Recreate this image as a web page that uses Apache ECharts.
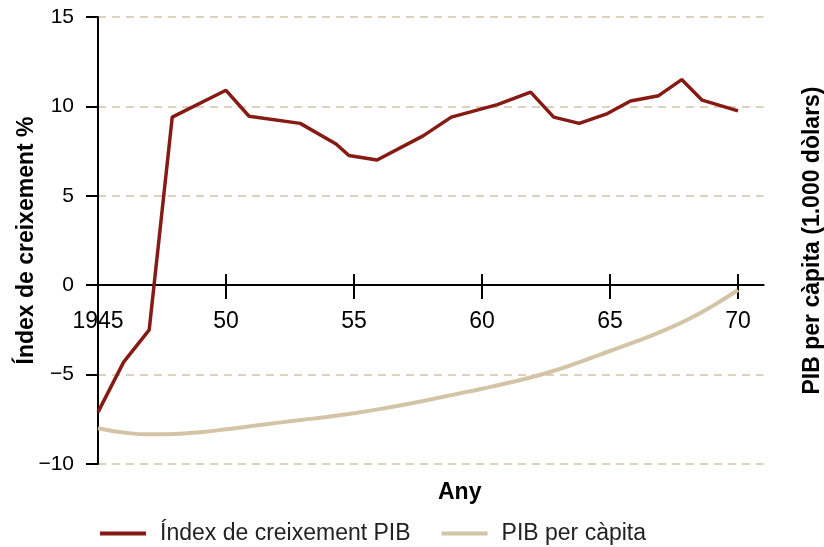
<!DOCTYPE html>
<html>
<head>
<meta charset="utf-8">
<script src="https://cdn.jsdelivr.net/npm/echarts@6/dist/echarts.min.js"></script>
<style>html,body{margin:0;padding:0;background:#fff}#c{width:824px;height:547px}</style>
</head>
<body>
<div id="c"></div>
<script>
// Índex de creixement PIB (%)
const growthYears = [1945, 1946, 1947, 1947.9, 1950, 1950.9, 1952.9, 1954.3, 1954.8, 1955.9, 1957.7, 1958.8, 1960.6, 1961.9, 1962.8, 1963.8, 1964.9, 1965.8, 1966.9, 1967.8, 1968.6, 1970];
const growthValues = [-7.1, -4.3, -2.5, 9.4, 10.9, 9.45, 9.05, 7.9, 7.25, 7.0, 8.35, 9.4, 10.1, 10.8, 9.4, 9.05, 9.6, 10.3, 10.6, 11.5, 10.35, 9.75];
// PIB per càpita (1.000 dòlars)
const gdpYears = [1945, 1946, 1947, 1948, 1949, 1950, 1951, 1952, 1953, 1954, 1955, 1956, 1957, 1958, 1959, 1960, 1961, 1962, 1963, 1964, 1965, 1966, 1967, 1968, 1969, 1970];
const gdpValues = [0.400, 0.352, 0.332, 0.336, 0.356, 0.388, 0.424, 0.460, 0.494, 0.528, 0.568, 0.614, 0.666, 0.722, 0.782, 0.842, 0.906, 0.976, 1.060, 1.160, 1.264, 1.368, 1.480, 1.610, 1.766, 1.946];
// tick labels
const xTickValues = [1945, 1950, 1955, 1960, 1965, 1970];
const xTickLabels = ['1945', '50', '55', '60', '65', '70'];

const FONT = "'Liberation Sans', Arial, sans-serif";
const RED = '#861a15';
const BEIGE = '#d3c4a6';
const ZERO_OFFSET = -179; // x axis drawn at value 0 of the left axis

const chart = echarts.init(document.getElementById('c'), null, {renderer: 'canvas'});
chart.setOption({
  animation: false,
  backgroundColor: '#fff',
  grid: {left: 98, right: 60.4, top: 17, bottom: 83, containLabel: false, outerBoundsMode: 'none'},
  legend: {
    left: 95, top: 517,
    icon: 'rect', itemWidth: 46, itemHeight: 4, itemGap: 31,
    textStyle: {fontFamily: FONT, fontSize: 23, color: '#222', padding: [0, 0, 0, 9]},
    data: ['Índex de creixement PIB', 'PIB per càpita']
  },
  graphic: [{
    type: 'text', left: 438, top: 481,
    style: {text: 'Any', font: "bold 23px 'Liberation Sans', Arial, sans-serif", fill: '#000', textAlign: 'center'}
  }],
  xAxis: [{
    type: 'value', min: 1945, max: 1971, interval: 5, position: 'bottom', offset: ZERO_OFFSET,
    axisLine: {onZero: false, lineStyle: {color: '#000', width: 2}},
    axisTick: {show: true, length: 14, lineStyle: {color: '#000', width: 2}, customValues: xTickValues.slice(1)},
    axisLabel: {
      fontFamily: FONT, fontSize: 23, color: '#000', margin: 25,
      customValues: xTickValues,
      formatter: v => { const i = xTickValues.indexOf(v); return i >= 0 ? xTickLabels[i] : ''; }
    },
    splitLine: {show: false}
  }, {
    type: 'value', min: 1945, max: 1971, interval: 5, position: 'bottom', offset: ZERO_OFFSET,
    axisLine: {show: false, onZero: false},
    axisTick: {show: true, inside: true, length: 11, lineStyle: {color: '#000', width: 2}, customValues: xTickValues.slice(1)},
    axisLabel: {show: false},
    splitLine: {show: false}
  }],
  yAxis: [{
    type: 'value', min: -10, max: 15, interval: 5,
    name: 'Índex de creixement %', nameLocation: 'middle', nameGap: 60, nameRotate: 90, nameMoveOverlap: false,
    nameTextStyle: {fontFamily: FONT, fontSize: 23, fontWeight: 'bold', color: '#000'},
    axisLine: {show: true, onZero: false, lineStyle: {color: '#000', width: 2}},
    axisTick: {show: true, length: 12, lineStyle: {color: '#000', width: 2}},
    axisLabel: {
      fontFamily: FONT, fontSize: 21, color: '#000', margin: 24,
      formatter: v => String(v).replace('-', '\u2212')
    },
    splitLine: {show: true, lineStyle: {color: BEIGE, width: 1.5, type: [8, 6]}}
  }, {
    type: 'value', min: 0, max: 5, interval: 1, position: 'right',
    name: 'PIB per càpita (1.000 dòlars)', nameLocation: 'middle', nameGap: 38, nameRotate: 90, nameMoveOverlap: false,
    nameTextStyle: {fontFamily: FONT, fontSize: 23, fontWeight: 'bold', color: '#000'},
    axisLine: {show: false}, axisTick: {show: false}, axisLabel: {show: false}, splitLine: {show: false}
  }],
  series: [{
    name: 'PIB per càpita', type: 'line', yAxisIndex: 1, smooth: 0.5,
    showSymbol: false, symbol: 'none',
    lineStyle: {color: BEIGE, width: 4}, itemStyle: {color: BEIGE},
    data: gdpYears.map((y, i) => [y, gdpValues[i]])
  }, {
    name: 'Índex de creixement PIB', type: 'line', yAxisIndex: 0,
    showSymbol: false, symbol: 'none',
    lineStyle: {color: RED, width: 3.5}, itemStyle: {color: RED},
    data: growthYears.map((y, i) => [y, growthValues[i]])
  }]
});
</script>
</body>
</html>
